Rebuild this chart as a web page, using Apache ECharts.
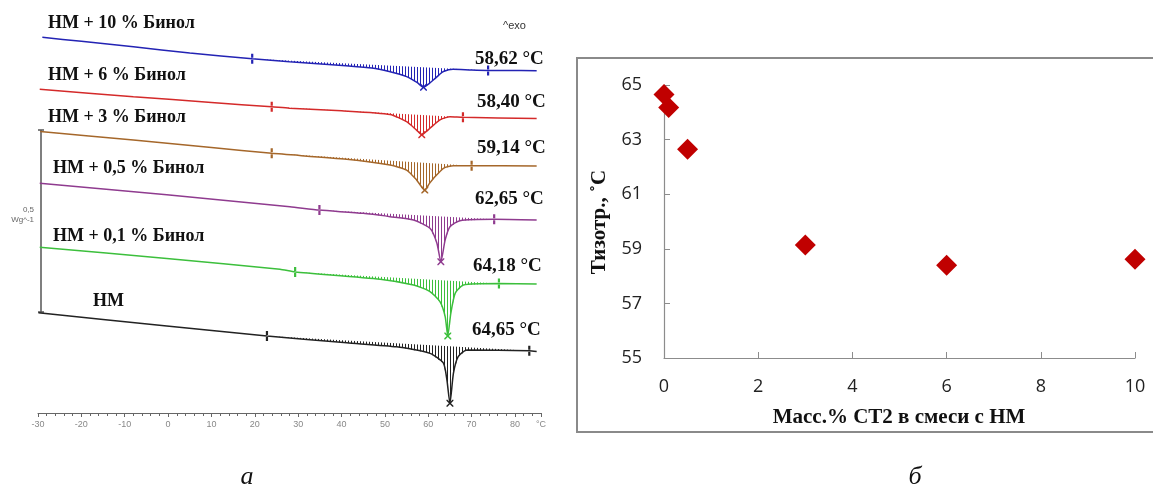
<!DOCTYPE html>
<html><head><meta charset="utf-8">
<script src="https://cdn.jsdelivr.net/npm/echarts@6/dist/echarts.min.js"></script>
<style>html,body{margin:0;padding:0;background:#fff}#c{width:1153px;height:490px}</style>
</head><body><div id="c"></div>
<script>
// ================= DATA =================
// Panel a: DSC curves, [temperature °C, heat flow (W/g, stacked offset)]
const curveLabels = ['НМ + 10 % Бинол', 'НМ + 6 % Бинол', 'НМ + 3 % Бинол', 'НМ + 0,5 % Бинол', 'НМ + 0,1 % Бинол', 'НМ'];
const curveConc = [10, 6, 3, 0.5, 0.1, 0];
const curve10 = [[-29,1.033],[-20,1.022],[-8,1.007],[5,0.990],[19.4,0.974],[28,0.966],[41,0.955],[47,0.949],[51,0.939],[55,0.925],[57.4,0.909],[58.9,0.896],[60.2,0.906],[61.3,0.917],[62.5,0.930],[63.5,0.939],[65.7,0.945],[70,0.943],[73.8,0.942],[78,0.942],[85,0.941]];
const curve6 = [[-29.6,0.890],[-8,0.870],[10,0.854],[23.9,0.842],[28,0.838],[40,0.831],[51.2,0.821],[55,0.801],[57.3,0.778],[58.5,0.765],[59.5,0.774],[60.4,0.783],[62.7,0.806],[65,0.815],[68,0.813],[85,0.810]];
const curve3 = [[-29.5,0.774],[-8,0.751],[10,0.730],[23.9,0.714],[41.2,0.698],[51.2,0.682],[55,0.668],[57.3,0.641],[59.2,0.613],[60.2,0.630],[61.2,0.645],[63.5,0.673],[65.8,0.680],[70,0.680],[85,0.679]];
const curve05 = [[-29.6,0.632],[-0.3,0.600],[28.1,0.567],[34.9,0.558],[45,0.549],[51.2,0.540],[56.6,0.531],[60.4,0.508],[62,0.467],[62.9,0.416],[63.9,0.476],[65,0.512],[67.3,0.529],[75.2,0.533],[85,0.531]];
const curve01 = [[-29.6,0.456],[-0.3,0.425],[25.8,0.395],[29.3,0.388],[48.9,0.368],[56.6,0.352],[60.4,0.334],[62.7,0.306],[63.9,0.265],[64.5,0.212],[65.2,0.274],[66.2,0.329],[68.1,0.352],[76.3,0.356],[85,0.355]];
const curve0 = [[-29.9,0.276],[-0.3,0.239],[22.8,0.212],[41.2,0.193],[52.7,0.182],[60.4,0.164],[63.5,0.137],[64.3,0.091],[65,0.027],[65.8,0.109],[66.9,0.155],[68.9,0.173],[83.3,0.171],[85,0.169]];
// integration limits (°C) for each curve
const integLimits = [[19.4,73.8],[23.9,68],[23.9,70],[34.9,75.2],[29.3,76.3],[22.8,83.3]];

// Panel b: isotropic transition temperature vs mass %
const massPct = [0, 0.1, 0.5, 3, 6, 10];
const tIso = [64.65, 64.18, 62.65, 59.14, 58.40, 58.62];

// ================= STYLE / LAYOUT =================
const curves = [curve10, curve6, curve3, curve05, curve01, curve0];
const colors = ['#2323b4', '#d42a2a', '#a5672a', '#8f3b8f', '#3cbf3c', '#222222'];
const nameAnchors = [[48,23],[48,75],[48,117],[53,168],[53,236],[93,301]];
const tempAnchors = [[475,59],[477,102],[477,148],[475,199],[473,266],[472,330]];

function pattern(color){
  const c = document.createElement('canvas'); c.width = 3; c.height = 4;
  const g = c.getContext('2d'); g.fillStyle = color; g.fillRect(0,0,1,4);
  return {image: c, repeat: 'repeat'};
}
const xPath = 'path://M0,0L1.5,0L5,3.5L8.5,0L10,0L10,1.5L6.5,5L10,8.5L10,10L8.5,10L5,6.5L1.5,10L0,10L0,8.5L3.5,5L0,1.5Z';
const markPath = 'path://M0,0L2,0L2,4L0,4Z M0,6L2,6L2,10L0,10Z';

const series = [];
curves.forEach((cv, i) => {
  const lim = integLimits[i];
  const pts = cv.filter(p => p[0] >= lim[0] && p[0] <= lim[1]);
  series.push({
    type: 'custom', xAxisIndex: 0, yAxisIndex: 0, silent: true, z: 1,
    data: [[pts[0][0], pts[0][1]]],
    renderItem: (params, api) => ({
      type: 'polygon',
      shape: {points: pts.map(p => api.coord(p))},
      style: {fill: pattern(colors[i]), stroke: null}
    })
  });
  series.push({
    type: 'line', xAxisIndex: 0, yAxisIndex: 0, data: cv, showSymbol: false, smooth: 0.2,
    silent: true, z: 3, lineStyle: {color: colors[i], width: 1.5}
  });
  const marks = cv.filter(p => p[0] === lim[0] || p[0] === lim[1]);
  series.push({
    type: 'scatter', xAxisIndex: 0, yAxisIndex: 0, data: marks, symbol: markPath,
    symbolSize: [2.2, 10], itemStyle: {color: colors[i], opacity: 1}, silent: true, z: 4
  });
  let pk = cv[0]; cv.forEach(p => { if (p[1] < pk[1]) pk = p; });
  series.push({
    type: 'scatter', xAxisIndex: 0, yAxisIndex: 0, data: [pk], symbol: xPath,
    symbolSize: 7, itemStyle: {color: colors[i], opacity: 1}, silent: true, z: 4
  });
});
series.push({
  type: 'scatter', xAxisIndex: 1, yAxisIndex: 1,
  data: massPct.map((m, i) => [m, tIso[i]]),
  symbol: 'diamond', symbolSize: 21, itemStyle: {color: '#c00000', opacity: 1}, z: 5
});

const serif = '"Liberation Serif", "DejaVu Serif", serif';
const graphics = [];
curveLabels.forEach((t, i) => {
  graphics.push({type: 'text', x: nameAnchors[i][0], y: nameAnchors[i][1], silent: true,
    style: {text: t, fontFamily: serif, fontWeight: 'bold', fontSize: 18, fill: '#111', align: 'left', verticalAlign: 'middle'}});
  const v = tIso[massPct.indexOf(curveConc[i])];
  graphics.push({type: 'text', x: tempAnchors[i][0], y: tempAnchors[i][1], silent: true,
    style: {text: v.toFixed(2).replace('.', ',') + ' °C', fontFamily: serif, fontWeight: 'bold', fontSize: 19, fill: '#111', align: 'left', verticalAlign: 'middle'}});
});
graphics.push(
  {type: 'text', x: 503, y: 26, silent: true, style: {text: '^exo', fontFamily: '"Liberation Sans", sans-serif', fontSize: 11, fill: '#333', align: 'left', verticalAlign: 'middle'}},
  {type: 'text', x: 34, y: 210, silent: true, style: {text: '0,5', fontFamily: '"Liberation Sans", sans-serif', fontSize: 8, fill: '#666', align: 'right', verticalAlign: 'middle'}},
  {type: 'text', x: 34, y: 220, silent: true, style: {text: 'Wg^-1', fontFamily: '"Liberation Sans", sans-serif', fontSize: 8, fill: '#666', align: 'right', verticalAlign: 'middle'}},
  {type: 'polyline', silent: true, shape: {points: [[44,130],[38,130]]}, style: {stroke: '#555', lineWidth: 1.5}},
  {type: 'polyline', silent: true, shape: {points: [[41,130],[41,312]]}, style: {stroke: '#555', lineWidth: 1.5}},
  {type: 'polyline', silent: true, shape: {points: [[38,312],[44,312]]}, style: {stroke: '#555', lineWidth: 1.5}},
  {type: 'rect', silent: true, shape: {x: 577, y: 58, width: 620, height: 374}, style: {fill: null, stroke: '#8a8a8a', lineWidth: 2}},
  {type: 'text', x: 600, y: 222, rotation: Math.PI / 2, silent: true, style: {text: 'Тизотр., ˚С', fontFamily: serif, fontWeight: 'bold', fontSize: 21, fill: '#111', align: 'center', verticalAlign: 'middle'}},
  {type: 'text', x: 899, y: 418, silent: true, style: {text: 'Масс.% СТ2 в смеси с НМ', fontFamily: serif, fontWeight: 'bold', fontSize: 21, fill: '#111', align: 'center', verticalAlign: 'middle'}},
  {type: 'text', x: 247, y: 477, silent: true, style: {text: 'а', fontFamily: serif, fontStyle: 'italic', fontSize: 26, fill: '#111', align: 'center', verticalAlign: 'middle'}},
  {type: 'text', x: 915, y: 477, silent: true, style: {text: 'б', fontFamily: serif, fontStyle: 'italic', fontSize: 26, fill: '#111', align: 'center', verticalAlign: 'middle'}}
);

const chart = echarts.init(document.getElementById('c'), null, {renderer: 'canvas'});
chart.setOption({
  backgroundColor: '#fff',
  animation: false,
  grid: [
    {left: 38, width: 503, top: 13, height: 400},
    {left: 664, right: 18, top: 85, bottom: 132}
  ],
  xAxis: [
    {gridIndex: 0, type: 'value', min: -30, max: 86, interval: 10,
      axisLine: {lineStyle: {color: '#666', width: 1}},
      axisTick: {show: true, length: 4, lineStyle: {color: '#666'}},
      minorTick: {show: true, splitNumber: 5, length: 3, lineStyle: {color: '#666'}},
      splitLine: {show: false}, minorSplitLine: {show: false},
      axisLabel: {fontSize: 9, color: '#888', margin: 7, fontFamily: '"Liberation Sans", sans-serif',
        formatter: v => (v % 10 === 0 ? String(v) : '°C')}},
    {gridIndex: 1, type: 'value', min: 0, max: 10, interval: 2,
      axisLine: {lineStyle: {color: '#8c8c8c', width: 1.2}},
      axisTick: {show: true, inside: true, length: 6, lineStyle: {color: '#8c8c8c'}},
      splitLine: {show: false},
      axisLabel: {fontSize: 18, color: '#222', margin: 20, fontFamily: '"Open Sans", sans-serif'}}
  ],
  yAxis: [
    {gridIndex: 0, type: 'value', min: 0, max: 1.1, show: false},
    {gridIndex: 1, type: 'value', min: 55, max: 65, interval: 2,
      axisLine: {show: true, lineStyle: {color: '#8c8c8c', width: 1.2}},
      axisTick: {show: true, inside: true, length: 6, lineStyle: {color: '#8c8c8c'}},
      splitLine: {show: false},
      axisLabel: {fontSize: 18, color: '#222', margin: 22, fontFamily: '"Open Sans", sans-serif'}}
  ],
  series: series,
  graphic: graphics
});
</script></body></html>
